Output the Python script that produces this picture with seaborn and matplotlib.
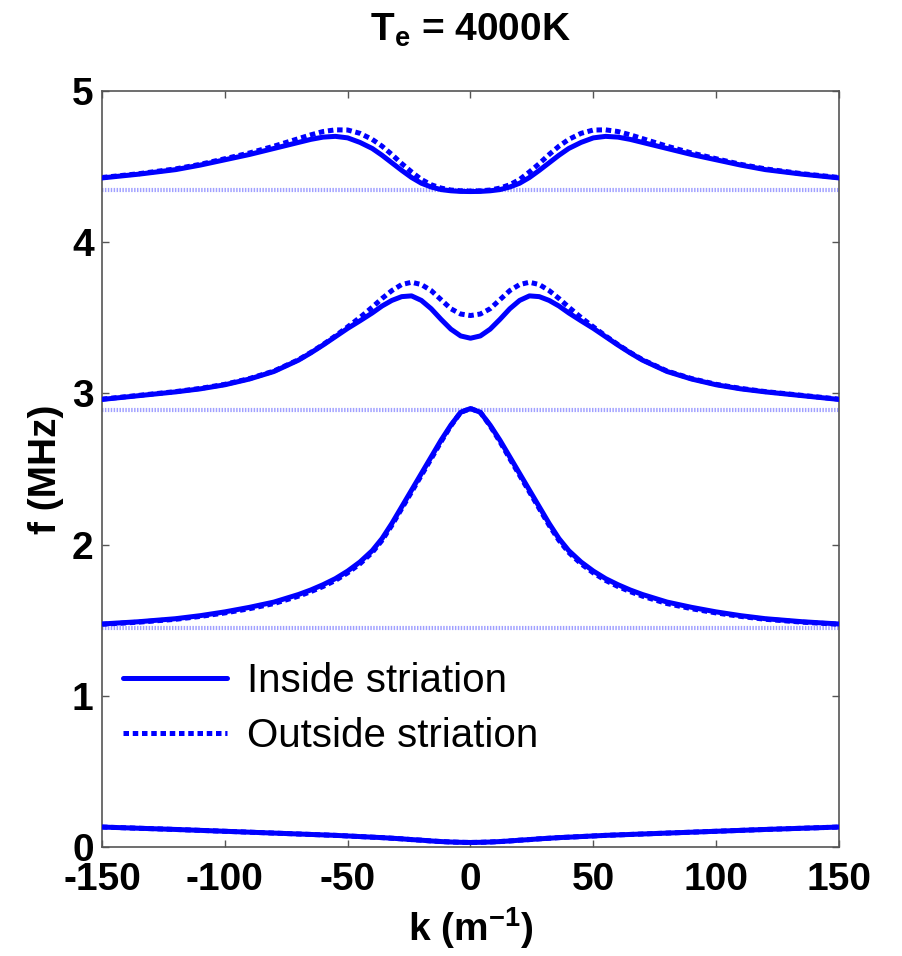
import numpy as np
import pandas as pd
import matplotlib
matplotlib.use("Agg")
import matplotlib.pyplot as plt
import seaborn as sns

# ---- data (k >= 0 half; curves are symmetric in k) ----
k_half = [0, 4, 8, 12, 16, 20, 24, 28, 32, 36, 40, 45, 50, 55, 60, 65, 70, 80, 90, 100, 110, 120, 135, 150]

branch1_in  = [0.030, 0.031, 0.033, 0.036, 0.040, 0.045, 0.049, 0.054, 0.058, 0.062, 0.065, 0.069,
               0.073, 0.077, 0.080, 0.083, 0.086, 0.092, 0.098, 0.104, 0.110, 0.116, 0.124, 0.132]
branch1_out = branch1_in

branch2_in  = [2.90, 2.875, 2.79, 2.69, 2.58, 2.47, 2.36, 2.25, 2.14, 2.04, 1.96, 1.885,
               1.825, 1.775, 1.735, 1.70, 1.67, 1.62, 1.585, 1.555, 1.53, 1.51, 1.49, 1.475]
branch2_out = [2.90, 2.875, 2.785, 2.68, 2.568, 2.458, 2.348, 2.238, 2.128, 2.028, 1.948, 1.873,
               1.813, 1.763, 1.723, 1.689, 1.659, 1.61, 1.576, 1.548, 1.525, 1.506, 1.487, 1.473]

branch3_in  = [3.365, 3.38, 3.425, 3.49, 3.56, 3.615, 3.645, 3.64, 3.615, 3.578, 3.532, 3.48,
               3.43, 3.375, 3.32, 3.268, 3.22, 3.145, 3.095, 3.057, 3.03, 3.01, 2.985, 2.96]
branch3_out = [3.515, 3.525, 3.56, 3.62, 3.68, 3.72, 3.735, 3.72, 3.68, 3.628, 3.57, 3.502,
               3.44, 3.38, 3.323, 3.271, 3.223, 3.148, 3.098, 3.06, 3.033, 3.012, 2.987, 2.962]

branch4_in  = [4.335, 4.336, 4.34, 4.348, 4.365, 4.39, 4.428, 4.475, 4.525, 4.575, 4.62, 4.66,
               4.69, 4.70, 4.695, 4.68, 4.66, 4.62, 4.58, 4.545, 4.51, 4.48, 4.45, 4.425]
branch4_out = [4.338, 4.34, 4.345, 4.358, 4.38, 4.415, 4.465, 4.52, 4.58, 4.635, 4.68, 4.72,
               4.742, 4.743, 4.732, 4.71, 4.685, 4.635, 4.59, 4.552, 4.515, 4.485, 4.453, 4.428]

harmonics = [1.449, 2.89, 4.345]

legend_labels = ["Inside striation", "Outside striation"]
title_text = r"T$_{\mathrm{e}}$ = 4000K"
xlabel_text = r"k (m$^{\mathrm{-1}}$)"
ylabel_text = "f (MHz)"
xticks = [-150, -100, -50, 0, 50, 100, 150]
yticks = [0, 1, 2, 3, 4, 5]


def mirror(k, v):
    k = np.asarray(k, float)
    v = np.asarray(v, float)
    return np.concatenate([-k[::-1], k[1:]]), np.concatenate([v[::-1], v[1:]])


rows = []
pairs = [(branch1_in, branch1_out), (branch2_in, branch2_out),
         (branch3_in, branch3_out), (branch4_in, branch4_out)]
for b, (vin, vout) in enumerate(pairs):
    for lab, v in ((legend_labels[0], vin), (legend_labels[1], vout)):
        kk, ff = mirror(k_half, v)
        for a, c in zip(kk, ff):
            rows.append({"k": a, "f": c, "where": lab, "branch": b})
df = pd.DataFrame(rows)

sns.set_theme(style="white")
plt.rcParams["font.family"] = ["Liberation Sans", "DejaVu Sans"]
plt.rcParams["mathtext.fontset"] = "custom"
plt.rcParams["mathtext.rm"] = "Liberation Sans:bold"
plt.rcParams["mathtext.bf"] = "Liberation Sans:bold"
plt.rcParams["mathtext.it"] = "Liberation Sans:bold"
plt.rcParams["text.color"] = "black"
plt.rcParams["axes.labelcolor"] = "black"

fig = plt.figure(figsize=(9.02, 9.56), dpi=100)
ax = fig.add_axes([102 / 902, 1 - 847 / 956, 737 / 902, 756 / 956])

blue = "#0000ff"
dotted = (0, (1.1, 0.75))

# harmonic reference lines
for h in harmonics:
    ax.axhline(h, color="#a0a0ff", lw=3.0, ls=(0, (0.35, 0.35)), zorder=1)

handles = {}
for b in range(4):
    sub = df[df["branch"] == b]
    for lab, z in ((legend_labels[1], 2), (legend_labels[0], 3)):
        n_before = len(ax.get_lines())
        sns.lineplot(data=sub[sub["where"] == lab], x="k", y="f", ax=ax,
                     color=blue, lw=3.6, sort=True, estimator=None,
                     legend=False, zorder=z)
        line = ax.get_lines()[n_before]
        if lab == legend_labels[1]:
            line.set_linestyle(dotted)
            line.set_dash_capstyle("butt")
        handles.setdefault(lab, line)

ax.set_xlim(-150, 150)
ax.set_ylim(0, 5)
ax.set_xticks(xticks)
ax.set_yticks(yticks)
ax.set_xticklabels([str(t) for t in xticks], fontsize=28, fontweight="bold")
ax.set_yticklabels([str(t) for t in yticks], fontsize=28, fontweight="bold")
ax.tick_params(axis="both", direction="in", length=5, width=1, color="#555555",
               labelcolor="black", top=True, right=True, bottom=True, left=True)
ax.tick_params(axis="x", pad=11)
ax.tick_params(axis="y", pad=6)
for s in ax.spines.values():
    s.set_color("#555555")
    s.set_linewidth(1.2)

ax.set_xlabel(xlabel_text, fontsize=28, fontweight="bold", labelpad=5, color="black")
ax.set_ylabel(ylabel_text, fontsize=28, fontweight="bold", labelpad=6, color="black")
ax.set_title(title_text, fontsize=28, fontweight="bold", pad=36, color="black")

leg = ax.legend([handles[legend_labels[0]], handles[legend_labels[1]]], legend_labels,
                loc="lower left", bbox_to_anchor=(0.028, 0.122), borderaxespad=0,
                borderpad=0, frameon=False, fontsize=29, handlelength=2.6,
                handletextpad=0.5, labelspacing=0.42)
for t in leg.get_texts():
    t.set_color("black")

fig.savefig("out.png", dpi=100, facecolor="white")
